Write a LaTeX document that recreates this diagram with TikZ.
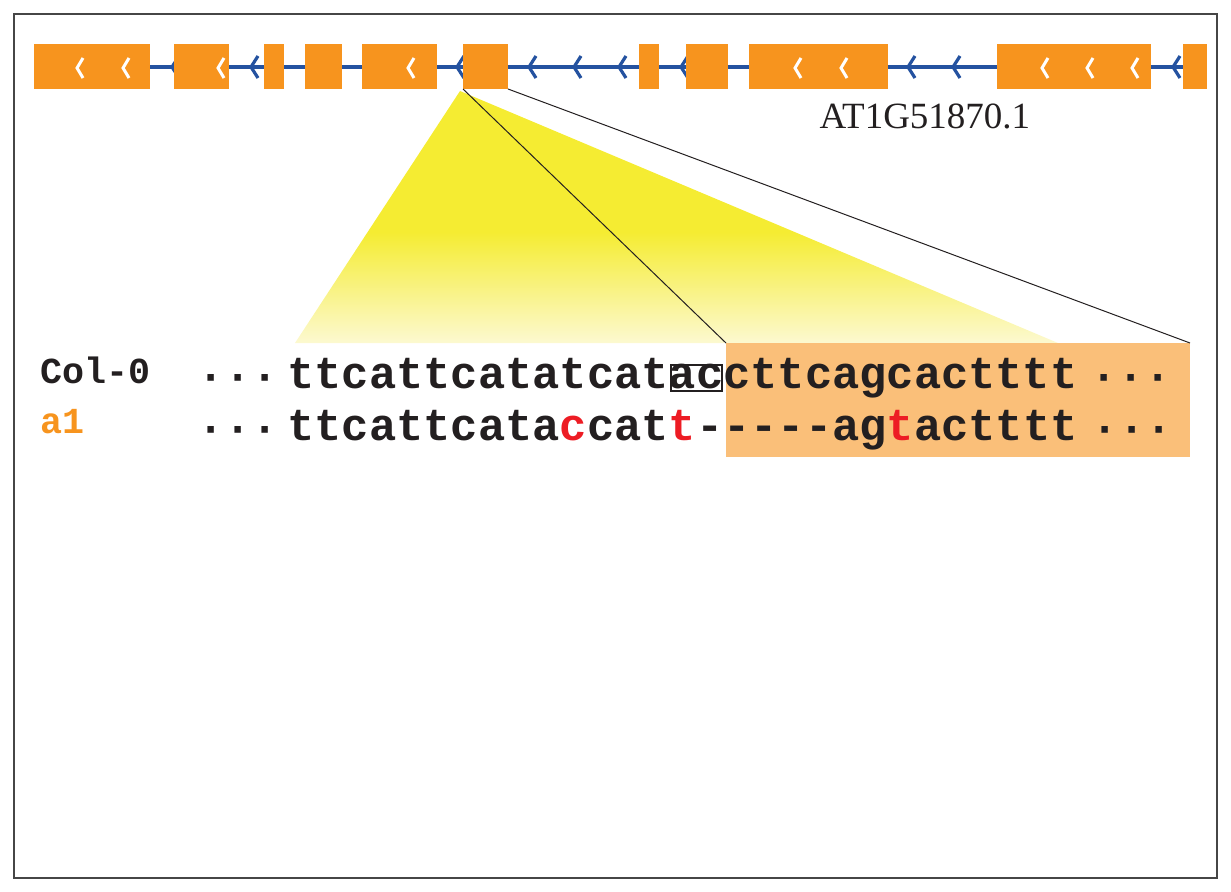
\documentclass[tikz,border=0pt]{standalone}
\usepackage{fontspec}
\setmainfont{Liberation Serif}
\setmonofont{Liberation Mono}

\definecolor{exonorange}{RGB}{247,148,30}
\definecolor{intronblue}{RGB}{36,82,160}
\definecolor{boxorange}{RGB}{250,191,121}
\definecolor{snpred}{RGB}{237,28,36}
\definecolor{zoomyellow}{RGB}{245,236,50}
\definecolor{zoompale}{RGB}{252,249,208}
\definecolor{framegray}{RGB}{70,70,70}
\definecolor{inkblack}{RGB}{35,31,32}

\pgfdeclareverticalshading{zoomfade}{100bp}{color(0bp)=(zoompale); color(25bp)=(zoompale); color(47bp)=(zoomyellow); color(100bp)=(zoomyellow)}

\newcommand{\seqtext}{\fontsize{34.05}{40}\selectfont\ttfamily\bfseries}
\newcommand{\labeltext}{\fontsize{27.5}{32}\selectfont\ttfamily\bfseries}
\newcommand{\genetext}{\fontsize{27.75}{32}\selectfont\rmfamily}

\tikzset{every picture/.style={line width=0.75pt}}
\tikzset{
  exon/.style={fill=exonorange, inner sep=0pt, outer sep=0pt, anchor=north west, minimum height=33.75pt},
  intron/.style={color=intronblue, line width=2.4},
  chevron/.style={color=white, line width=2.25},
  txt/.style={anchor=base west, inner sep=0pt, text=inkblack}
}

\begin{document}
\begin{tikzpicture}[x=0.75pt,y=0.75pt,yscale=-1,xscale=1]
	\useasboundingbox (0,0) rectangle (1231,892);

	%Shape: Rectangle
	\draw [color=framegray, line width=1.9] (14,14) rectangle (1217,878) ;

	%Straight Lines
	\draw [intron] (34,67) -- (1207,67) ;
	\foreach \x in {172,251,457,529,574,619,681,908,953,1173}
		\draw [intron] (\x+7,56) -- (\x,67) -- (\x+7,78) ;

	%Shape: Rectangle
	\foreach \l/\r [count=\i] in {34/150,174/229,264/284,305/342,362/437,463/508,639/659,686/728,749/888,997/1151,1183/1207}
		\node [exon, minimum width={(\r-\l)*0.75pt}] (ex\i) at (\l,44) {};
	\foreach \x in {77,123,218,408,795,841,1042,1087,1132}
		\draw [chevron] (\x+6,58) -- (\x,68) -- (\x+6,78) ;

	%Shape: Polygon
	\shade [shading=zoomfade] (460,91) -- (1058,343) -- (295,343) -- cycle ;

	%Shape: Rectangle
	\node [fill=boxorange, inner sep=0pt, outer sep=0pt, anchor=north west, minimum width={464*0.75pt}, minimum height={114*0.75pt}] (seqbox) at (726,343) {};

	%Straight Lines
	\draw [color=inkblack] (ex6.south west) -- (seqbox.north west) ;
	%Straight Lines
	\draw [color=inkblack] (ex6.south east) -- (seqbox.north east) ;

	% Text Node
	\node [txt] (genename) at (819,128) {\genetext AT1G51870.1};
	% Text Node
	\node [txt] (colzero) at (40,383) {\labeltext Col-0};
	% Text Node
	\node [txt, text=exonorange] (aone) at (40,433) {\labeltext a1};

	% Text Node
	\node [txt] (dotsa) at (196.5,390.5) {\seqtext ···};
	\node [txt] (colseq) at (287,388) {\seqtext ttcattcatatcataccttcagcactttt};
	\node [txt] (dotsb) at (1089.5,390.5) {\seqtext ···};
	% Text Node
	\node [txt] (dotsc) at (196.5,442.5) {\seqtext ···};
	\node [txt] (aoneseq) at (287,440) {\seqtext ttcattcata\textcolor{snpred}{c}cat\textcolor{snpred}{t}-{}-{}-{}-{}-ag\textcolor{snpred}{t}actttt};
	\node [txt] (dotsd) at (1091,442.5) {\seqtext ···};

	%Shape: Rectangle
	\node [draw=inkblack, line width=0.9, inner sep=0pt, minimum width={51*0.75pt}, minimum height={26*0.75pt}] (acbox) at (696.5,378) {};

\end{tikzpicture}
\end{document}
